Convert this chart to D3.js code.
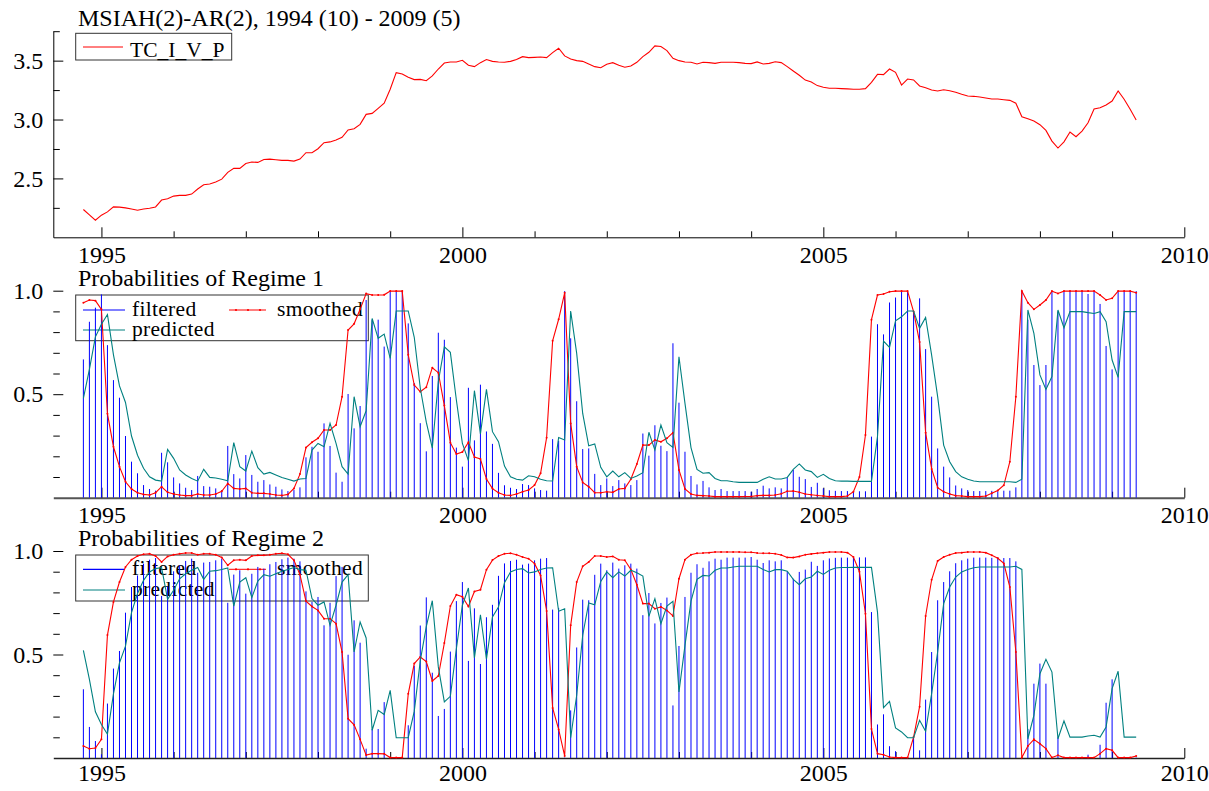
<!DOCTYPE html>
<html>
<head>
<meta charset="utf-8">
<script src="https://cdn.jsdelivr.net/npm/d3@7"></script>
<style>
  body { margin: 0; background: #fff; }
  svg { display: block; background: #fff; }
</style>
</head>
<body>
<svg id="chart" width="1209" height="791"></svg>
<script>
// Monthly sample 1994 (10) - 2009 (5)
const firstYear = 1994;
const firstMonth = 10;

const tcIVP = [
  2.236,2.190,2.145,2.188,2.216,2.258,2.256,2.250,2.240,2.230,
  2.240,2.247,2.258,2.316,2.327,2.350,2.356,2.356,2.367,2.410,
  2.446,2.452,2.469,2.494,2.551,2.585,2.585,2.627,2.639,2.636,
  2.661,2.664,2.658,2.653,2.653,2.647,2.664,2.718,2.718,2.752,
  2.803,2.810,2.826,2.849,2.911,2.922,2.959,3.044,3.052,3.095,
  3.138,3.257,3.398,3.387,3.359,3.339,3.341,3.330,3.370,3.429,
  3.480,3.489,3.489,3.503,3.461,3.449,3.483,3.509,3.494,3.489,
  3.486,3.494,3.509,3.534,3.526,3.528,3.531,3.526,3.568,3.605,
  3.540,3.514,3.500,3.494,3.472,3.449,3.440,3.469,3.483,3.461,
  3.444,3.455,3.486,3.534,3.571,3.625,3.620,3.585,3.520,3.500,
  3.489,3.486,3.472,3.486,3.483,3.477,3.486,3.486,3.486,3.483,
  3.477,3.475,3.489,3.472,3.477,3.491,3.483,3.449,3.412,3.376,
  3.335,3.319,3.288,3.274,3.265,3.265,3.262,3.260,3.257,3.257,
  3.262,3.316,3.384,3.381,3.429,3.401,3.293,3.344,3.336,3.285,
  3.270,3.251,3.242,3.253,3.245,3.231,3.214,3.200,3.197,3.191,
  3.183,3.174,3.174,3.168,3.163,3.138,3.024,3.007,2.987,2.956,
  2.908,2.817,2.758,2.811,2.894,2.854,2.902,2.973,3.089,3.100,
  3.123,3.157,3.242,3.172,3.087,2.996
];

const regime1Filtered = [
  .668,.850,.918,.982,.737,.568,.483,.298,.174,.118,
  .061,.042,.034,.217,.171,.098,.069,.048,.037,.105,
  .056,.053,.045,.037,.250,.114,.093,.206,.110,.077,
  .085,.064,.053,.040,.032,.037,.050,.195,.246,.222,
  .359,.250,.121,.077,.501,.335,.443,.955,.860,.860,
  .730,.998,.998,.998,.842,.554,.360,.224,.588,.797,
  .763,.486,.242,.150,.531,.277,.546,.320,.260,.120,
  .060,.048,.042,.066,.061,.045,.037,.034,.283,.275,
  .998,.770,.466,.235,.238,.115,.061,.093,.056,.085,
  .069,.061,.085,.310,.203,.350,.251,.225,.746,.459,
  .222,.105,.064,.081,.050,.037,.042,.032,.032,.032,
  .032,.029,.042,.058,.045,.050,.045,.098,.134,.101,
  .090,.052,.072,.045,.036,.033,.032,.032,.032,.031,
  .031,.295,.838,.789,.943,.967,.998,.998,.900,.963,
  .718,.488,.238,.150,.098,.059,.045,.037,.032,.032,
  .032,.033,.031,.034,.034,.050,.998,.860,.641,.544,
  .641,.998,.900,.998,.998,.998,.998,.984,.998,.936,
  .733,.620,.998,.998,.998,.998
];

const regime1Smoothed = [
  .942,.955,.952,.910,.406,.246,.150,.077,.042,.024,
  .016,.013,.024,.053,.026,.018,.013,.010,.010,.018,
  .013,.013,.018,.031,.069,.045,.042,.045,.024,.021,
  .021,.018,.013,.011,.016,.045,.114,.242,.268,.287,
  .327,.327,.351,.488,.810,.840,.910,.986,.979,.979,
  .980,.998,.998,.998,.690,.544,.512,.534,.628,.604,
  .445,.266,.211,.221,.268,.196,.187,.090,.044,.024,
  .013,.011,.018,.029,.037,.061,.118,.290,.758,.862,
  .990,.359,.150,.074,.053,.024,.024,.029,.026,.042,
  .045,.089,.163,.254,.254,.279,.270,.287,.314,.134,
  .042,.018,.011,.010,.008,.005,.005,.005,.005,.005,
  .006,.006,.010,.011,.011,.013,.019,.031,.032,.026,
  .018,.014,.011,.008,.005,.005,.005,.008,.029,.100,
  .303,.860,.979,.984,.995,.998,.998,.998,.899,.752,
  .314,.139,.048,.029,.018,.010,.008,.005,.005,.005,
  .008,.021,.035,.060,.174,.488,.998,.942,.910,.931,
  .955,.998,.987,.998,.998,.998,.998,.998,.998,.979,
  .955,.963,.998,.998,.998,.990
];

const regime1Predicted = [
  .480,.620,.777,.838,.885,.690,.540,.460,.298,.205,
  .142,.101,.085,.080,.233,.190,.134,.110,.093,.080,
  .137,.098,.095,.089,.082,.266,.150,.129,.225,.145,
  .114,.122,.110,.098,.089,.080,.090,.093,.230,.262,
  .246,.359,.262,.150,.114,.488,.343,.420,.866,.770,
  .790,.673,.902,.902,.902,.775,.530,.365,.240,.560,
  .729,.702,.472,.262,.179,.517,.308,.523,.319,.271,
  .153,.101,.089,.085,.106,.101,.089,.082,.081,.291,
  .279,.902,.697,.407,.251,.260,.147,.101,.129,.101,
  .121,.093,.105,.121,.316,.230,.351,.266,.243,.681,
  .456,.242,.137,.118,.121,.093,.082,.082,.077,.074,
  .074,.074,.074,.089,.101,.090,.090,.098,.137,.163,
  .134,.126,.098,.113,.093,.082,.080,.080,.079,.079,
  .079,.079,.295,.757,.726,.855,.874,.902,.902,.818,
  .871,.689,.488,.254,.174,.126,.101,.089,.081,.077,
  .077,.077,.077,.077,.077,.074,.089,.907,.794,.593,
  .523,.585,.907,.821,.899,.899,.899,.894,.890,.899,
  .850,.665,.581,.899,.899,.899
];

const regime2Filtered = [
  .332,.150,.082,.018,.263,.432,.517,.702,.826,.882,
  .939,.958,.966,.783,.829,.902,.931,.952,.963,.895,
  .944,.947,.955,.963,.750,.886,.907,.794,.890,.923,
  .915,.936,.947,.960,.968,.963,.950,.805,.754,.778,
  .641,.750,.879,.923,.499,.665,.557,.045,.140,.140,
  .270,.002,.002,.002,.158,.446,.640,.776,.412,.203,
  .237,.514,.758,.850,.469,.723,.454,.680,.740,.880,
  .940,.952,.958,.934,.939,.955,.963,.966,.717,.725,
  .002,.230,.534,.765,.762,.885,.939,.907,.944,.915,
  .931,.939,.915,.690,.797,.650,.749,.775,.254,.541,
  .778,.895,.936,.919,.950,.963,.958,.968,.968,.968,
  .968,.971,.958,.942,.955,.950,.955,.902,.866,.899,
  .910,.948,.928,.955,.964,.967,.968,.968,.968,.969,
  .969,.705,.162,.211,.057,.033,.002,.002,.100,.037,
  .282,.512,.762,.850,.902,.941,.955,.963,.968,.968,
  .968,.967,.969,.966,.966,.950,.002,.140,.359,.456,
  .359,.002,.100,.002,.002,.002,.002,.016,.002,.064,
  .267,.380,.002,.002,.002,.002
];

const regime2Smoothed = [
  .058,.045,.048,.090,.594,.754,.850,.923,.958,.976,
  .984,.987,.976,.947,.974,.982,.987,.990,.990,.982,
  .987,.987,.982,.969,.931,.955,.958,.955,.976,.979,
  .979,.982,.987,.989,.984,.955,.886,.758,.732,.713,
  .673,.673,.649,.512,.190,.160,.090,.014,.021,.021,
  .020,.002,.002,.002,.310,.456,.488,.466,.372,.396,
  .555,.734,.789,.779,.732,.804,.813,.910,.956,.976,
  .987,.989,.982,.971,.963,.939,.882,.710,.242,.138,
  .010,.641,.850,.926,.947,.976,.976,.971,.974,.958,
  .955,.911,.837,.746,.746,.721,.730,.713,.686,.866,
  .958,.982,.989,.990,.992,.995,.995,.995,.995,.995,
  .994,.994,.990,.989,.989,.987,.981,.969,.968,.974,
  .982,.986,.989,.992,.995,.995,.995,.992,.971,.900,
  .697,.140,.021,.016,.005,.002,.002,.002,.101,.248,
  .686,.861,.952,.971,.982,.990,.992,.995,.995,.995,
  .992,.979,.965,.940,.826,.512,.002,.058,.090,.069,
  .045,.002,.013,.002,.002,.002,.002,.002,.002,.021,
  .045,.037,.002,.002,.002,.010
];

const regime2Predicted = [
  .520,.380,.223,.162,.115,.310,.460,.540,.702,.795,
  .858,.899,.915,.920,.767,.810,.866,.890,.907,.920,
  .863,.902,.905,.911,.918,.734,.850,.871,.775,.855,
  .886,.878,.890,.902,.911,.920,.910,.907,.770,.738,
  .754,.641,.738,.850,.886,.512,.657,.580,.134,.230,
  .210,.327,.098,.098,.098,.225,.470,.635,.760,.440,
  .271,.298,.528,.738,.821,.483,.692,.477,.681,.729,
  .847,.899,.911,.915,.894,.899,.911,.918,.919,.709,
  .721,.098,.303,.593,.749,.740,.853,.899,.871,.899,
  .879,.907,.895,.879,.684,.770,.649,.734,.757,.319,
  .544,.758,.863,.882,.879,.907,.918,.918,.923,.926,
  .926,.926,.926,.911,.899,.910,.910,.902,.863,.837,
  .866,.874,.902,.887,.907,.918,.920,.920,.921,.921,
  .921,.921,.705,.243,.274,.145,.126,.098,.098,.182,
  .129,.311,.512,.746,.826,.874,.899,.911,.919,.923,
  .923,.923,.923,.923,.923,.926,.911,.093,.206,.407,
  .477,.415,.093,.179,.101,.101,.101,.106,.110,.101,
  .150,.335,.419,.101,.101,.101
];

// Axis ticks
const xMajorYears = [1995, 2000, 2005, 2010];
const xMinorYears = [1996, 1997, 1998, 1999, 2001, 2002, 2003, 2004, 2006, 2007, 2008, 2009];
const levelMajorTicks = [2.5, 3.0, 3.5];
const levelMinorTicks = [2.25, 2.75, 3.25, 3.75];
const probMajorTicks = [0.5, 1.0];
const probMinorTicks = [0.1, 0.2, 0.3, 0.4, 0.6, 0.7, 0.8, 0.9];

const COLORS = { red: "#ff0000", blue: "#0000ff", teal: "#008080", frame: "#333333" };
const SERIF = "'Liberation Serif', 'Times New Roman', Times, 'DejaVu Serif', serif";
const TICK_FONT = 24;
const TITLE_FONT = 24;
const LEGEND_FONT = 21.5;

const dates = tcIVP.map((_, i) => firstYear + (firstMonth - 1 + i) / 12);

const svg = d3.select("#chart");
const x = d3.scaleLinear().domain([1994 + 4 / 12, 2010]).range([53.3, 1184.3]);

function styleText(sel, size) {
  return sel.attr("font-family", SERIF).style("font-family", SERIF)
    .attr("font-size", size).style("font-size", size + "px").attr("fill", "#000");
}

function drawXAxis(yPix, pad, color, width) {
  const gMaj = svg.append("g")
    .attr("transform", `translate(0,${yPix})`)
    .call(d3.axisBottom(x).tickValues(xMajorYears).tickFormat(d3.format("d"))
      .tickSizeInner(-10).tickSizeOuter(0).tickPadding(pad));
  gMaj.select(".domain").attr("stroke", color).attr("stroke-width", width);
  gMaj.selectAll(".tick line").attr("stroke", "#000");
  styleText(gMaj.selectAll(".tick text"), TICK_FONT);
  const gMin = svg.append("g")
    .attr("transform", `translate(0,${yPix})`)
    .call(d3.axisBottom(x).tickValues(xMinorYears).tickFormat("")
      .tickSizeInner(-6).tickSizeOuter(0));
  gMin.select(".domain").remove();
  gMin.selectAll(".tick line").attr("stroke", "#000");
}

function drawYAxis(y, majors, minors, fmt, showLine) {
  const gMaj = svg.append("g")
    .attr("transform", "translate(53.3,0)")
    .call(d3.axisLeft(y).tickValues(majors).tickFormat(d3.format(fmt))
      .tickSizeInner(-10).tickSizeOuter(0).tickPadding(10));
  if (showLine) gMaj.select(".domain").attr("stroke", "#000");
  else gMaj.select(".domain").remove();
  gMaj.selectAll(".tick line").attr("stroke", "#000");
  styleText(gMaj.selectAll(".tick text"), TICK_FONT);
  const gMin = svg.append("g")
    .attr("transform", "translate(53.3,0)")
    .call(d3.axisLeft(y).tickValues(minors).tickFormat("")
      .tickSizeInner(-6.5).tickSizeOuter(0));
  gMin.select(".domain").remove();
  gMin.selectAll(".tick line").attr("stroke", "#000");
}

function label(text, xPos, yBase, size) {
  return styleText(svg.append("text").attr("x", xPos).attr("y", yBase), size).text(text);
}

// ---------- Panel 1: TC_I_V_P ----------
const y1 = d3.scaleLinear().domain([2.0, 3.75]).range([237.3, 31.2]);
label("MSIAH(2)-AR(2), 1994 (10) - 2009 (5)", 78, 26, TITLE_FONT);
drawYAxis(y1, levelMajorTicks, levelMinorTicks, ".1f", true);
drawXAxis(237.3, 9, "#000", 1);

svg.append("rect").attr("x", 75.7).attr("y", 33.3).attr("width", 156).attr("height", 26.7)
  .attr("fill", "none").attr("stroke", COLORS.frame).attr("stroke-width", 1);
svg.append("line").attr("x1", 83).attr("x2", 123).attr("y1", 47).attr("y2", 47)
  .attr("stroke", COLORS.red).attr("stroke-width", 1);
label("TC_I_V_P", 130, 56.5, LEGEND_FONT);

svg.append("path")
  .datum(tcIVP)
  .attr("fill", "none").attr("stroke", COLORS.red).attr("stroke-width", 1.1)
  .attr("d", d3.line().x((d, i) => x(dates[i])).y(d => y1(d)));

// ---------- Probability panels ----------
function probPanel(opts) {
  const y = d3.scaleLinear().domain([0, 1]).range([opts.y0, opts.y1]);
  label(opts.title, 78, opts.titleBase, TITLE_FONT);
  drawYAxis(y, probMajorTicks, probMinorTicks, ".1f", false);
  drawXAxis(opts.y0, opts.labelPad, opts.axisColor, opts.axisWidth);

  // legend (drawn beneath the series)
  const L = opts.legend;
  svg.append("rect").attr("x", 75.7).attr("y", L.top).attr("width", 292.6).attr("height", L.height)
    .attr("fill", "none").attr("stroke", COLORS.frame).attr("stroke-width", 1);
  svg.append("line").attr("x1", 83).attr("x2", 125).attr("y1", L.row1).attr("y2", L.row1)
    .attr("stroke", COLORS.blue).attr("stroke-width", 1.2);
  label("filtered", 132, L.row1 + 5.5, LEGEND_FONT).attr("letter-spacing", 0.3);
  svg.append("line").attr("x1", 229).attr("x2", 266).attr("y1", L.row1).attr("y2", L.row1)
    .attr("stroke", COLORS.red).attr("stroke-width", 1);
  [236, 248, 260].forEach(cx => svg.append("circle").attr("cx", cx).attr("cy", L.row1)
    .attr("r", 1.1).attr("fill", COLORS.red));
  label("smoothed", 277, L.row1 + 5.5, LEGEND_FONT).attr("letter-spacing", 0.3);
  svg.append("line").attr("x1", 83).attr("x2", 125).attr("y1", L.row2).attr("y2", L.row2)
    .attr("stroke", COLORS.teal).attr("stroke-width", 1.2);
  label("predicted", 132, L.row2 + 5.5, LEGEND_FONT).attr("letter-spacing", 0.3);

  // filtered probabilities as thin bars
  svg.append("g").selectAll("line").data(opts.filtered).join("line")
    .attr("x1", (d, i) => x(dates[i])).attr("x2", (d, i) => x(dates[i]))
    .attr("y1", y(0)).attr("y2", d => y(d))
    .attr("stroke", COLORS.blue).attr("stroke-width", 1);

  // smoothed probabilities with point markers
  svg.append("path").datum(opts.smoothed)
    .attr("fill", "none").attr("stroke", COLORS.red).attr("stroke-width", 1.1)
    .attr("d", d3.line().x((d, i) => x(dates[i])).y(d => y(d)));
  svg.append("g").selectAll("circle").data(opts.smoothed).join("circle")
    .attr("cx", (d, i) => x(dates[i])).attr("cy", d => y(d))
    .attr("r", 1).attr("fill", COLORS.red);

  // predicted probabilities
  svg.append("path").datum(opts.predicted)
    .attr("fill", "none").attr("stroke", COLORS.teal).attr("stroke-width", 1.1)
    .attr("d", d3.line().x((d, i) => x(dates[i])).y(d => y(d)));
}

probPanel({
  title: "Probabilities of Regime 1", titleBase: 285.7,
  y0: 497.7, y1: 290.7, labelPad: 8, axisColor: "#555", axisWidth: 2,
  legend: { top: 295, height: 45.7, row1: 310, row2: 330 },
  filtered: regime1Filtered, smoothed: regime1Smoothed, predicted: regime1Predicted
});

probPanel({
  title: "Probabilities of Regime 2", titleBase: 546,
  y0: 758, y1: 551, labelPad: 6, axisColor: "#222", axisWidth: 1.3,
  legend: { top: 555, height: 46, row1: 569.3, row2: 590 },
  filtered: regime2Filtered, smoothed: regime2Smoothed, predicted: regime2Predicted
});
</script>
</body>
</html>
